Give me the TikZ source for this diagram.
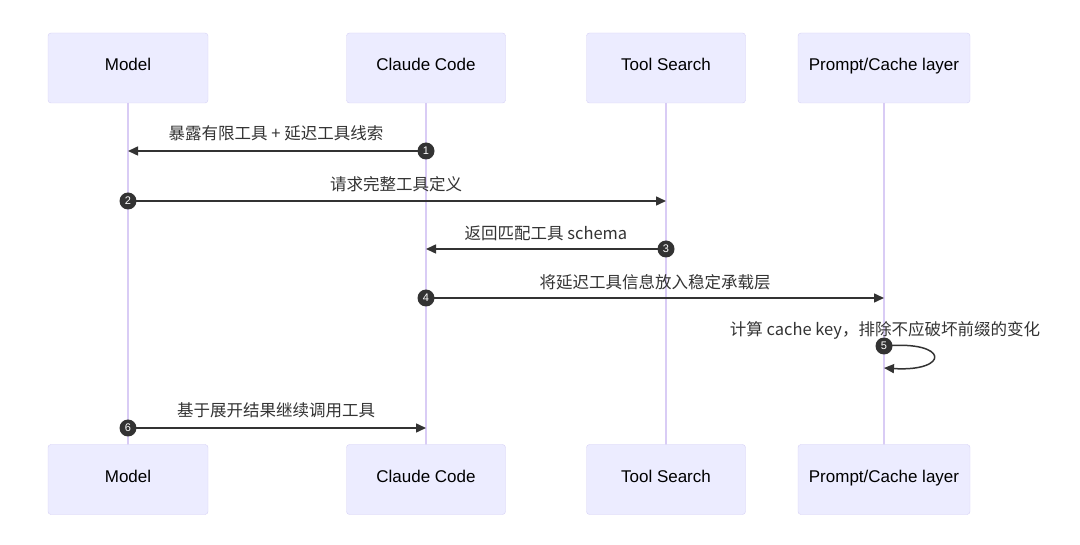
\documentclass[tikz,border=0pt]{standalone}
\usepackage{fontspec}
\setmainfont{Liberation Sans}
\newfontfamily\cjk{Noto Sans CJK SC}
\usetikzlibrary{arrows.meta}
\definecolor{boxfill}{HTML}{ECECFF}
\definecolor{boxline}{HTML}{D6D1F5}
\definecolor{life}{HTML}{D9CCF5}
\definecolor{msg}{HTML}{333333}
\begin{document}
\begin{tikzpicture}[x=1pt,y=-1pt,
  actor/.style={draw=boxline,fill=boxfill,rounded corners=3pt,minimum height=70pt,inner sep=0pt,text depth=0pt,font=\fontsize{17}{19}\selectfont},
  ll/.style={draw=life,line width=2pt},
  m/.style={draw=msg,line width=1.5pt,-{Triangle[length=10pt,width=9pt]}},
  num/.style={circle,fill=msg,text=white,minimum size=17pt,inner sep=0pt,font=\fontsize{11}{11}\selectfont},
  lab/.style={font=\cjk\fontsize{16.5}{18}\selectfont,text=msg,inner sep=0pt}]
\useasboundingbox (0,0) rectangle (1080,545);
\foreach \n/\x/\w/\t in {a/128/160/{Model},b/426/159/{Claude Code},c/666/159/{Tool Search},d/884/172/{Prompt/Cache layer}}{
  \draw[ll] (\x,103) -- (\x,445);
  \node[actor,minimum width=\w pt] (\n t) at (\x,68) {\raisebox{7pt}{\t}};
  \node[actor,minimum width=\w pt] (\n b) at (\x,479.5) {\raisebox{7pt}{\t}};
}
% 1
\coordinate (s1) at (426,151); \coordinate (e1) at (128,151);
\draw[m] (s1) -- (e1);
\node[lab] at (276,133) {暴露有限工具 + 延迟工具线索};
\node[num] at (s1) {1};
% 2
\coordinate (s2) at (128,201); \coordinate (e2) at (666,201);
\draw[m] (s2) -- (e2);
\node[lab] at (396,184) {请求完整工具定义};
\node[num] at (s2) {2};
% 3
\coordinate (s3) at (666,249); \coordinate (e3) at (426,249);
\draw[m] (s3) -- (e3);
\node[lab] at (546,233) {返回匹配工具 schema};
\node[num] at (s3) {3};
% 4
\coordinate (s4) at (426,298); \coordinate (e4) at (884,298);
\draw[m] (s4) -- (e4);
\node[lab] at (655,282) {将延迟工具信息放入稳定承载层};
\node[num] at (s4) {4};
% 5
\coordinate (s5) at (884,346); \coordinate (e5) at (884,368);
\draw[m] (s5) .. controls (950,340) and (950,372) .. (e5);
\node[lab] at (885,330) {计算 cache key，排除不应破坏前缀的变化};
\node[num] at (s5) {5};
% 6
\coordinate (s6) at (128,428); \coordinate (e6) at (426,428);
\draw[m] (s6) -- (e6);
\node[lab] at (276,410) {基于展开结果继续调用工具};
\node[num] at (s6) {6};
\end{tikzpicture}
\end{document}
